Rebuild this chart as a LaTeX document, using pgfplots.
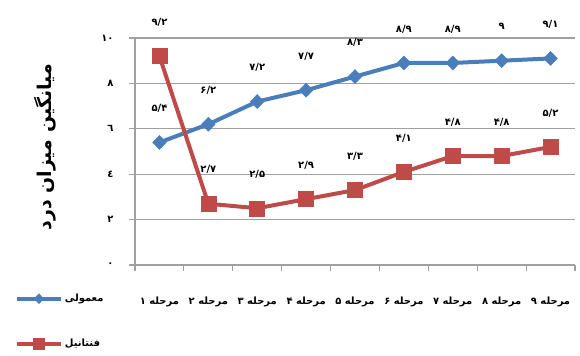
\documentclass[border=0pt]{standalone}
\usepackage{pgfplots}
\pgfplotsset{compat=1.18}
\usepackage{fontspec}
\newfontfamily\arabicfont[Script=Arabic]{DejaVu Sans}
\TeXXeTstate=1
\definecolor{serA}{HTML}{4A7EBB}
\definecolor{serB}{HTML}{BE4B48}
\definecolor{gridc}{HTML}{A0A0A0}
\begin{document}
\begin{tikzpicture}
% page frame: the axis' lower left corner sits at the origin
\path[use as bounding box] (-135bp,-91bp) rectangle (445bp,265bp);
\begin{axis}[
  anchor=south west,
  scale only axis, width=440bp, height=227bp,
  xmin=0.5, xmax=9.5, ymin=0, ymax=10,
  axis x line*=bottom, axis y line*=left,
  axis line style={gridc, line width=1.2pt},
  xtick={0.5,1.5,...,9.5},
  x tick label as interval,
  xticklabels={{\beginR مرحله ۱\endR},{\beginR مرحله ۲\endR},{\beginR مرحله ۳\endR},{\beginR مرحله ۴\endR},{\beginR مرحله ۵\endR},{\beginR مرحله ۶\endR},{\beginR مرحله ۷\endR},{\beginR مرحله ۸\endR},{\beginR مرحله ۹\endR}},
  xticklabel style={font=\arabicfont\bfseries\fontsize{10}{11}\selectfont, yshift=-22bp},
  ytick={0,2,...,10},
  yticklabels={٠,٢,٤,٦,٨,١٠},
  yticklabel style={font=\arabicfont\bfseries\fontsize{10}{11}\selectfont, xshift=-12bp},
  tick align=outside, major tick length=6bp,
  tick style={gridc, line width=1.2pt},
  ymajorgrids, grid style={gridc, line width=1.2pt},
  ylabel={\beginR میانگین میزان درد\endR},
  ylabel style={font=\arabicfont\bfseries\fontsize{19}{20}\selectfont, at={(-0.205,0.52)}, anchor=center},
  nodes near coords,
  point meta=explicit symbolic,
  every node near coord/.append style={font=\arabicfont\bfseries\fontsize{10}{11}\selectfont, text=black, anchor=center, yshift=34bp},
  clip=false,
  legend style={at={(-0.28,-0.11)}, anchor=north west, draw=none, fill=none,
    font=\arabicfont\bfseries\fontsize{10}{11}\selectfont, row sep=32bp,
    legend cell align=left},
  legend image code/.code={\draw[mark repeat=2,mark phase=2,#1, every mark/.append style={scale=0.7}] plot coordinates {(0bp,0bp) (22bp,0bp) (44bp,0bp)};},
]
\addplot[serA, line width=4bp, mark=diamond*, mark size=7bp, mark options={xscale=1.3, line width=0.5bp}]
  coordinates {(1,5.4) [۵/۴] (2,6.2) [۶/۲] (3,7.2) [۷/۲] (4,7.7) [۷/۷] (5,8.3) [۸/۳]
               (6,8.9) [۸/۹] (7,8.9) [۸/۹] (8,9) [۹] (9,9.1) [۹/۱]};
\addlegendentry{\beginR معمولی\endR}
\addplot[serB, line width=4bp, mark=square*, mark size=7.5bp, mark options={line width=0.5bp}]
  coordinates {(1,9.2) [۹/۲] (2,2.7) [۲/۷] (3,2.5) [۲/۵] (4,2.9) [۲/۹] (5,3.3) [۳/۳]
               (6,4.1) [۴/۱] (7,4.8) [۴/۸] (8,4.8) [۴/۸] (9,5.2) [۵/۲]};
\addlegendentry{\beginR فنتانیل\endR}
\end{axis}
\end{tikzpicture}
\end{document}
